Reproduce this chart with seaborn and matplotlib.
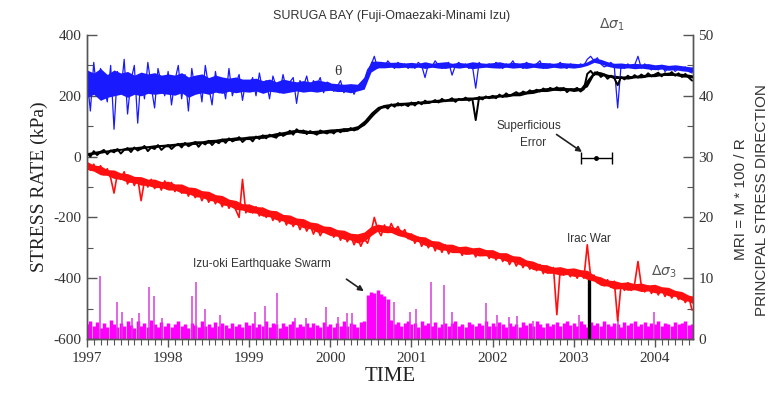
import numpy as np
import matplotlib
matplotlib.use("Agg")
import matplotlib.pyplot as plt
from matplotlib.ticker import MultipleLocator
import seaborn as sns

# ---------------- data ----------------
# half-monthly samples starting 1997.0 (noisy trace)
n_per_year = 24
theta = [260, 150, 310, 200, 290, 230, 180, 300, 90, 280, 210, 320, 140, 250, 300, 110, 270, 190, 310, 230, 160, 290, 240, 200,
         280, 170, 250, 300, 190, 270, 150, 290, 220, 260, 180, 300, 230, 170, 280, 210, 250, 190, 290, 200, 240, 270, 185, 250,
         230, 260, 200, 275, 215, 250, 190, 265, 230, 210, 270, 220, 245, 260, 175, 250, 230, 265, 215, 250, 235, 260, 210, 245,
         240, 215, 230, 250, 210, 225, 235, 205, 230, 220, 250, 285, 300, 330, 290, 310, 295, 315, 300, 290, 310, 295, 305, 290,
         305, 290, 310, 300, 260, 305, 295, 315, 300, 290, 305, 310, 268, 300, 310, 295, 305, 290, 300, 225, 310, 295, 300, 305,
         295, 310, 300, 290, 305, 300, 315, 295, 300, 290, 310, 300, 295, 305, 315, 290, 300, 305, 295, 300, 310, 295, 290, 305,
         300, 295, 305, 300, 320, 330, 315, 325, 305, 295, 300, 310, 295, 160, 300, 290, 305, 295, 300, 330, 290, 305, 295, 285,
         295, 285, 300, 280, 290, 295, 280, 290, 285, 295, 280, 275]

d_sigma1 = [12, 0, 18, 5, 15, 22, 8, 20, 14, 25, 10, 22, 28, 15, 30, 20, 26, 35, 18, 30, 25, 38, 22, 32,
            38, 25, 35, 42, 30, 45, 34, 40, 48, 32, 46, 40, 52, 38, 50, 44, 56, 45, 60, 50, 55, 64, 48, 58,
            62, 50, 66, 58, 70, 60, 72, 66, 62, 78, 68, 74, 85, 72, 90, 80, 86, 74, 84, 78, 72, 86, 80, 76,
            84, 76, 88, 80, 90, 84, 94, 86, 92, 98, 104, 115, 128, 140, 150, 160, 166, 158, 172, 164, 176, 168, 172, 166,
            178, 168, 180, 172, 184, 176, 180, 186, 178, 190, 182, 186, 192, 180, 190, 186, 194, 184, 190, 120, 196, 188, 198, 192,
            200, 192, 204, 196, 208, 200, 206, 212, 204, 214, 208, 218, 212, 220, 214, 224, 216, 226, 220, 228, 218, 226, 212, 222,
            220, 226, 214, 222, 272, 282, 268, 278, 262, 270, 256, 266, 258, 235, 262, 254, 266, 258, 268, 260, 270, 262, 274, 264,
            270, 276, 264, 274, 268, 278, 266, 274, 262, 272, 260, 250]

d_sigma3 = [-20, -45, -25, -50, -30, -60, -40, -70, -120, -55, -75, -50, -90, -65, -95, -70, -145, -80, -100, -75, -105, -85, -110, -80,
            -105, -85, -115, -95, -120, -100, -130, -105, -135, -115, -145, -120, -150, -130, -155, -135, -165, -140, -170, -150, -175, -200, -75, -185,
            -160, -185, -165, -195, -170, -200, -180, -210, -185, -215, -195, -225, -200, -230, -210, -240, -215, -245, -225, -255, -230, -260, -240, -250,
            -235, -265, -245, -275, -250, -280, -260, -290, -265, -295, -270, -285, -250, -200, -240, -260, -225, -250, -220, -245, -230, -255, -240, -270,
            -255, -285, -265, -295, -275, -300, -280, -310, -285, -315, -290, -320, -295, -310, -300, -325, -300, -320, -305, -330, -305, -325, -310, -335,
            -315, -340, -320, -345, -325, -355, -335, -360, -340, -365, -345, -370, -350, -375, -355, -385, -360, -380, -365, -520, -370, -390, -375, -395,
            -375, -400, -380, -400, -290, -395, -390, -415, -400, -425, -405, -430, -410, -540, -420, -440, -415, -440, -420, -345, -425, -445, -425, -450,
            -430, -455, -435, -460, -440, -465, -445, -470, -455, -480, -460, -505]

# monthly dense-band envelopes (upper / lower edge of the dark band), 1997.0 .. 2004.5
theta_hi = [285, 275, 290, 270, 285, 275, 280, 268, 278, 272, 276, 268,
            272, 268, 276, 262, 268, 272, 260, 268, 262, 258, 262, 255,
            255, 258, 250, 255, 246, 255, 250, 246, 250, 246, 252, 248,
            242, 240, 238, 240, 238, 262, 314, 314, 312, 310, 311, 308,
            310, 307, 312, 307, 310, 312, 307, 310, 307, 312, 309, 307,
            309, 312, 307, 310, 308, 311, 307, 310, 309, 307, 310, 308,
            307, 305, 312, 324, 320, 312, 307, 308, 305, 307, 305, 306,
            302, 304, 300, 302, 299, 296, 294]
theta_lo = [195, 205, 185, 195, 200, 205, 195, 205, 200, 208, 205, 208,
            205, 202, 210, 195, 205, 210, 205, 212, 208, 215, 210, 214,
            212, 216, 208, 215, 212, 208, 212, 216, 212, 215, 212, 216,
            218, 214, 214, 210, 216, 222, 278, 292, 292, 294, 292, 294,
            292, 294, 290, 294, 291, 290, 294, 291, 294, 289, 292, 294,
            292, 291, 294, 291, 293, 290, 294, 291, 290, 294, 291, 293,
            291, 294, 300, 310, 305, 297, 292, 290, 292, 289, 291, 288,
            286, 288, 284, 286, 282, 280, 276]

sigma1_hi = [13, 17, 21, 22, 27, 27, 31, 32, 35, 36, 39, 40,
             42, 44, 47, 48, 52, 52, 56, 57, 61, 62, 65, 65,
             68, 69, 73, 74, 79, 82, 87, 90, 89, 85, 87, 88,
             91, 92, 95, 96, 102, 120, 146, 165, 172, 175, 178, 179,
             181, 182, 185, 186, 189, 190, 193, 193, 196, 196, 199, 200,
             203, 204, 207, 208, 213, 216, 221, 224, 227, 228, 230, 227,
             226, 227, 255, 282, 279, 271, 268, 265, 266, 267, 270, 271,
             274, 275, 278, 275, 274, 271, 267]
sigma1_lo = [3, 8, 11, 15, 16, 21, 21, 25, 25, 29, 29, 33,
             32, 36, 36, 40, 40, 44, 44, 48, 49, 53, 53, 56,
             56, 60, 60, 65, 66, 72, 74, 80, 76, 76, 74, 78,
             78, 82, 82, 86, 88, 106, 134, 157, 161, 167, 167, 171,
             170, 174, 174, 178, 178, 182, 182, 185, 185, 188, 188, 192,
             192, 196, 196, 200, 200, 206, 208, 214, 214, 218, 217, 218,
             214, 218, 230, 270, 267, 263, 257, 257, 255, 259, 259, 263,
             263, 267, 267, 267, 262, 261, 256]

sigma3_hi = [-16, -28, -30, -43, -44, -54, -56, -65, -66, -74, -74, -82,
             -81, -90, -90, -100, -102, -112, -114, -125, -128, -140, -144, -155,
             -156, -164, -166, -176, -178, -190, -192, -202, -204, -215, -218, -228,
             -230, -240, -242, -252, -254, -248, -230, -222, -226, -230, -236, -246,
             -252, -262, -264, -276, -278, -288, -288, -296, -294, -300, -298, -306,
             -306, -316, -316, -326, -328, -340, -344, -354, -356, -364, -362, -368,
             -366, -372, -374, -390, -396, -406, -408, -414, -412, -418, -416, -422,
             -420, -428, -430, -440, -444, -456, -460]
sigma3_lo = [-42, -48, -60, -62, -72, -75, -84, -86, -94, -95, -102, -102,
             -110, -110, -120, -122, -132, -134, -144, -147, -159, -162, -174, -176,
             -184, -186, -196, -198, -208, -212, -222, -224, -234, -237, -248, -250,
             -260, -262, -272, -274, -284, -278, -260, -245, -250, -250, -260, -265,
             -276, -280, -292, -296, -306, -308, -316, -316, -322, -320, -327, -326,
             -334, -335, -344, -346, -356, -360, -372, -374, -384, -384, -390, -388,
             -394, -394, -404, -410, -424, -426, -436, -434, -440, -438, -444, -442,
             -448, -448, -458, -460, -472, -476, -488]

# MRI baseline (right axis units), half-monthly
mri_base = [2.5, 3.0, 2.2, 2.8, 1.8, 2.6, 2.0, 3.2, 2.4, 1.9, 2.7, 2.1, 3.0, 2.3, 1.8, 2.9, 2.2, 2.6, 1.9, 3.1, 2.4, 2.0, 2.8, 2.2,
            2.6, 1.9, 2.4, 2.9, 2.1, 2.5, 1.8, 2.7, 2.3, 2.0, 2.9, 2.2, 2.5, 1.9, 2.8, 2.1, 2.6, 2.3, 1.8, 2.7, 2.2, 2.5, 2.0, 2.8,
            2.3, 2.7, 1.9, 2.5, 2.2, 2.9, 2.0, 2.6, 2.4, 1.8, 2.7, 2.1, 2.5, 2.9, 2.0, 2.4, 2.2, 2.7, 1.9, 2.6, 2.3, 2.0, 2.8, 2.2,
            2.5, 2.0, 2.7, 2.2, 2.9, 2.1, 2.6, 2.4, 1.9, 2.8, 3.0, 7.2, 7.8, 7.5, 8.0, 7.4, 7.0, 6.6, 3.2, 2.5, 2.8, 2.2, 2.6, 2.9,
            2.4, 2.7, 2.0, 2.9, 2.3, 2.6, 2.2, 2.8, 1.9, 2.5, 2.7, 2.1, 2.6, 2.9, 2.2, 2.4, 2.0, 2.8, 2.5, 2.1, 2.7, 2.3, 2.9, 2.2,
            2.6, 2.1, 2.8, 2.4, 2.0, 2.7, 2.2, 2.5, 1.9, 2.8, 2.3, 2.6, 2.1, 2.9, 2.4, 2.0, 2.7, 2.2, 2.5, 2.8, 2.1, 2.6, 3.0, 2.3,
            2.7, 2.2, 2.9, 2.5, 2.0, 2.8, 2.3, 2.6, 2.1, 2.9, 2.4, 2.2, 2.7, 2.5, 2.0, 2.8, 2.3, 2.6, 2.9, 2.2, 2.5, 2.8, 2.1, 2.6,
            2.4, 2.9, 2.2, 2.7, 2.5, 2.1, 2.8, 2.4, 2.6, 2.9, 2.3, 2.5]

# MRI spikes: time and value
spike_t = [1997.16, 1997.37, 1997.43, 1997.55, 1997.64, 1997.77, 1997.82, 1997.93, 1998.30, 1998.34, 1998.45,
           1998.64, 1999.07, 1999.20, 1999.34, 1999.57, 1999.70, 1999.95, 2000.10, 2000.20, 2000.27, 2000.79,
           2000.98, 2001.06, 2001.24, 2001.40, 2001.50, 2001.92, 2002.05, 2002.20, 2002.30, 2002.50, 2003.06,
           2003.55, 2003.99]
spike_v = [10.4, 6.1, 4.5, 3.5, 4.2, 8.6, 7.0, 3.5, 7.0, 9.4, 5.0,
           4.0, 4.5, 5.5, 7.6, 3.5, 3.5, 5.2, 3.7, 4.3, 4.3, 6.1,
           4.5, 5.0, 9.4, 8.9, 4.5, 6.0, 4.0, 3.6, 3.8, 3.0, 4.0,
           3.3, 4.5]

# Iraq war marker (right axis units)
war_t = [2003.19]
war_v = [9.8]

# superficious error bar
err_t = [2003.28]
err_v = [-5]
err_half = [0.19]

t0 = 1997.0
t = t0 + np.arange(len(theta)) / n_per_year
tm = t0 + np.arange(len(theta_hi)) / 12

# ---------------- figure ----------------
sns.set_theme(style="white")
plt.rcParams["font.family"] = ["Liberation Serif", "DejaVu Serif"]
plt.rcParams["axes.unicode_minus"] = False

W, H = 783, 405
fig = plt.figure(figsize=(W / 100, H / 100), dpi=100)
ax = fig.add_axes([87 / W, 1 - 339 / H, (693 - 87) / W, (339 - 35) / H])
ax2 = ax.twinx()

BLUE, RED, MAG = "#1a1aff", "#ff1010", "#ff00ff"

# magenta MRI on right axis
ax2.vlines(t, 0, mri_base, color=MAG, lw=2.5)
ax2.vlines(spike_t, 0, spike_v, color="#d83cd8", lw=1.1)
ax2.vlines(war_t, 0, war_v, color="black", lw=2.4)

ax.fill_between(tm, theta_lo, theta_hi, color=BLUE, lw=0)
ax.fill_between(tm, sigma1_lo, sigma1_hi, color="black", lw=0)
ax.fill_between(tm, sigma3_lo, sigma3_hi, color=RED, lw=0)
sns.lineplot(x=t, y=theta, ax=ax, color=BLUE, lw=0.9)
sns.lineplot(x=t, y=d_sigma1, ax=ax, color="black", lw=1.4)
sns.lineplot(x=t, y=d_sigma3, ax=ax, color=RED, lw=1.2)

ax.errorbar(err_t, err_v, xerr=err_half, fmt="o", ms=2.5, color="black",
            capsize=4, lw=1.0, capthick=1.0)

ax.set_xlim(1997.0, 2004.47)
ax.set_ylim(-600, 400)
ax2.set_ylim(0, 50)
ax.set_zorder(ax2.get_zorder() + 1)
ax.patch.set_visible(False)

gray = "#555555"
tickc = "#333333"
for a in (ax, ax2):
    for s in a.spines.values():
        s.set_color(gray)
        s.set_linewidth(1.0)
    a.spines["top"].set_visible(False)
    a.grid(False)

ax.xaxis.set_major_locator(MultipleLocator(1))
ax.xaxis.set_minor_locator(MultipleLocator(1 / 12))
ax.yaxis.set_major_locator(MultipleLocator(200))
ax.yaxis.set_minor_locator(MultipleLocator(100))
ax2.yaxis.set_major_locator(MultipleLocator(10))
ax2.yaxis.set_minor_locator(MultipleLocator(5))

ax.tick_params(axis="x", which="major", direction="out", length=6, width=1, color=gray,
               labelsize=11, labelcolor=tickc, pad=3, bottom=True)
ax.tick_params(axis="x", which="minor", direction="out", length=4, width=0.8, color=gray, bottom=True)
ax.tick_params(axis="y", which="major", direction="in", length=7, width=1, color=gray,
               labelsize=11, labelcolor=tickc, left=True, right=False, pad=4)
ax.tick_params(axis="y", which="minor", direction="in", length=4, width=0.8, color=gray, left=True, right=False)
ax2.tick_params(axis="y", which="major", direction="in", length=7, width=1, color=gray,
                labelsize=11, labelcolor=tickc, right=True, left=False, pad=4)
ax2.tick_params(axis="y", which="minor", direction="in", length=4, width=0.8, color=gray, right=True, left=False)
ax.set_xticks([1997, 1998, 1999, 2000, 2001, 2002, 2003, 2004])
ax.set_xticklabels(["1997", "1998", "1999", "2000", "2001", "2002", "2003", "2004"])

ax.set_xlabel("TIME", fontsize=15, color="#222222", labelpad=2)
ax.set_ylabel("STRESS RATE (kPa)", fontsize=14, color="#222222", labelpad=4)
ax2.set_ylabel("")

sans = ["Liberation Sans", "DejaVu Sans"]
fig.text(392 / W, 1 - 16 / H, "SURUGA BAY (Fuji-Omaezaki-Minami Izu)", ha="center", va="center",
         fontsize=9, color="#333333", family=sans)
fig.text(741 / W, 1 - 199 / H, "MRI = M * 100 / R", rotation=90, ha="center", va="center",
         fontsize=11, color="#333333", family=sans)
fig.text(762 / W, 1 - 200 / H, "PRINCIPAL STRESS DIRECTION", rotation=90, ha="center", va="center",
         fontsize=11, color="#333333", family=sans)

ax.text(2000.09, 280, "θ", fontsize=11, color="#333333", ha="center", va="center")
ax.text(2003.47, 433, r"$\Delta\sigma_1$", fontsize=10, color="#555555", ha="center", va="center", clip_on=False)
ax.text(2004.11, -378, r"$\Delta\sigma_3$", fontsize=10, color="#555555", ha="center", va="center")
ax.text(2003.19, -272, "Irac War", fontsize=8.5, color="#333333", ha="center", va="center", family=sans)
ax.text(1999.16, -352, "Izu-oki Earthquake Swarm", fontsize=8.5, color="#333333", ha="center", va="center", family=sans)
ax.annotate("", xy=(2000.44, -448), xytext=(2000.17, -398),
            arrowprops=dict(arrowstyle="-|>", color="#222222", lw=1.2, mutation_scale=8))
ax.text(2002.45, 102, "Superficious", fontsize=8.5, color="#333333", ha="center", va="center", family=sans)
ax.text(2002.50, 46, "Error", fontsize=8.5, color="#333333", ha="center", va="center", family=sans)
ax.annotate("", xy=(2003.13, 10), xytext=(2002.76, 78),
            arrowprops=dict(arrowstyle="-|>", color="#222222", lw=1.2, mutation_scale=8))

fig.savefig("out.png", dpi=100)
